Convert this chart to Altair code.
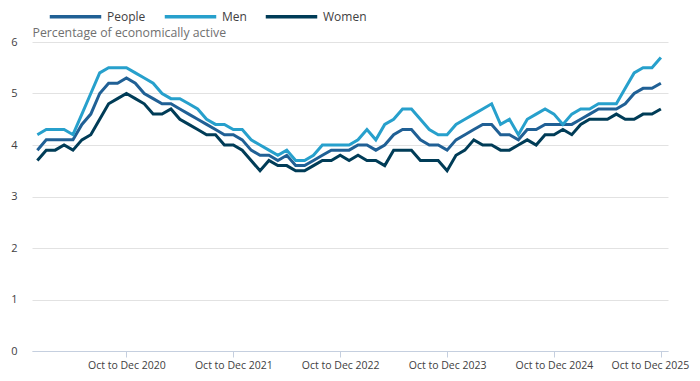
import altair as alt
import pandas as pd

series_names = ["People", "Men", "Women"]
series_colors = ["#206095", "#27a0cc", "#003c57"]

# Rolling 3-month periods, Dec to Feb 2020 ... Oct to Dec 2025 (index 0..70)
people = [3.9, 4.1, 4.1, 4.1, 4.1, 4.4, 4.6, 5.0, 5.2, 5.2,
          5.3, 5.2, 5.0, 4.9, 4.8, 4.8, 4.7, 4.6, 4.5, 4.4,
          4.3, 4.2, 4.2, 4.1, 3.9, 3.8, 3.8, 3.7, 3.8, 3.6,
          3.6, 3.7, 3.8, 3.9, 3.9, 3.9, 4.0, 4.0, 3.9, 4.0,
          4.2, 4.3, 4.3, 4.1, 4.0, 4.0, 3.9, 4.1, 4.2, 4.3,
          4.4, 4.4, 4.2, 4.2, 4.1, 4.3, 4.3, 4.4, 4.4, 4.4,
          4.4, 4.5, 4.6, 4.7, 4.7, 4.7, 4.8, 5.0, 5.1, 5.1,
          5.2]
men = [4.2, 4.3, 4.3, 4.3, 4.2, 4.6, 5.0, 5.4, 5.5, 5.5,
       5.5, 5.4, 5.3, 5.2, 5.0, 4.9, 4.9, 4.8, 4.7, 4.5,
       4.4, 4.4, 4.3, 4.3, 4.1, 4.0, 3.9, 3.8, 3.9, 3.7,
       3.7, 3.8, 4.0, 4.0, 4.0, 4.0, 4.1, 4.3, 4.1, 4.4,
       4.5, 4.7, 4.7, 4.5, 4.3, 4.2, 4.2, 4.4, 4.5, 4.6,
       4.7, 4.8, 4.4, 4.5, 4.2, 4.5, 4.6, 4.7, 4.6, 4.4,
       4.6, 4.7, 4.7, 4.8, 4.8, 4.8, 5.1, 5.4, 5.5, 5.5,
       5.7]
women = [3.7, 3.9, 3.9, 4.0, 3.9, 4.1, 4.2, 4.5, 4.8, 4.9,
         5.0, 4.9, 4.8, 4.6, 4.6, 4.7, 4.5, 4.4, 4.3, 4.2,
         4.2, 4.0, 4.0, 3.9, 3.7, 3.5, 3.7, 3.6, 3.6, 3.5,
         3.5, 3.6, 3.7, 3.7, 3.8, 3.7, 3.8, 3.7, 3.7, 3.6,
         3.9, 3.9, 3.9, 3.7, 3.7, 3.7, 3.5, 3.8, 3.9, 4.1,
         4.0, 4.0, 3.9, 3.9, 4.0, 4.1, 4.0, 4.2, 4.2, 4.3,
         4.2, 4.4, 4.5, 4.5, 4.5, 4.6, 4.5, 4.5, 4.6, 4.6,
         4.7]

tick_positions = [10, 22, 34, 46, 58, 70]
tick_labels = ["Oct to Dec 2020", "Oct to Dec 2021", "Oct to Dec 2022",
               "Oct to Dec 2023", "Oct to Dec 2024", "Oct to Dec 2025"]

rows = []
for name, vals in zip(series_names, [people, men, women]):
    for i, v in enumerate(vals):
        rows.append({"idx": i, "series": name, "value": v})
df = pd.DataFrame(rows)

labels_js = "[" + ",".join("'" + t + "'" for t in tick_labels) + "]"
pos_js = "[" + ",".join(str(p) for p in tick_positions) + "]"
label_expr = f"{labels_js}[indexof({pos_js}, datum.value)]"

FONT = "Open Sans"

chart = alt.Chart(df).mark_line(strokeWidth=3, strokeJoin="miter").encode(
    x=alt.X("idx:Q",
            scale=alt.Scale(domain=[-0.6, 70.8], nice=False, zero=False),
            axis=alt.Axis(values=tick_positions, labelExpr=label_expr, title=None,
                          grid=False, domain=True, domainColor="#c5cfdf",
                          ticks=True, tickColor="#c5cfdf", tickSize=6,
                          labelFontSize=10.5, labelColor="#414042", labelPadding=3,
                          labelFont=FONT, labelFlush=10, labelFlushOffset=28,
                          labelOverlap=False)),
    y=alt.Y("value:Q",
            scale=alt.Scale(domain=[0, 6], nice=False),
            axis=alt.Axis(values=[0, 1, 2, 3, 4, 5, 6], title="Percentage of economically active",
                          titleAngle=0, titleAlign="left", titleBaseline="bottom",
                          titleX=0, titleY=-3, titleFontSize=12.3, titleFontWeight="normal",
                          titleColor="#707070", titleFont=FONT,
                          grid=True, gridColor="#e2e2e2", domain=False, ticks=False,
                          labelFontSize=11, labelColor="#414042", labelPadding=15,
                          labelFont=FONT)),
    color=alt.Color("series:N",
                    scale=alt.Scale(domain=series_names, range=series_colors),
                    sort=series_names,
                    legend=alt.Legend(title=None, orient="none", legendX=16, legendY=-53,
                                      direction="horizontal", symbolType="stroke",
                                      symbolSize=2650, symbolStrokeWidth=3.5,
                                      labelFontSize=12, labelColor="#414042", labelFont=FONT,
                                      labelOffset=4, columnPadding=11, gridAlign="each")),
    order="idx:Q",
).properties(
    width=636,
    height=309,
    autosize=alt.AutoSizeParams(type="none"),
    padding={"left": 24, "top": 34, "right": 24, "bottom": 30},
).configure_view(stroke=None)

chart.save("out.html", embed_options={"renderer": "svg", "actions": False})
